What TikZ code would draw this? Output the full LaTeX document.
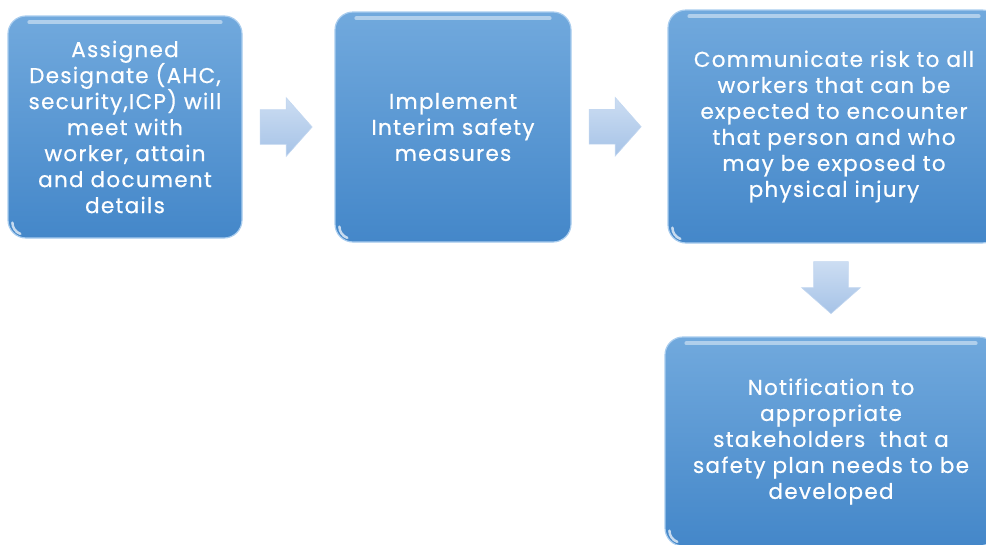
\documentclass[tikz,border=0pt]{standalone}
\usepackage{fontspec}
\setmainfont{Poppins}
\newfontfamily\stepfont[LetterSpace=6,FakeBold=0.6]{Poppins}
\usetikzlibrary{shapes.arrows,calc}

\definecolor{boxtop}{HTML}{71A9DD}
\definecolor{boxbot}{HTML}{4487C9}
\definecolor{boxedge}{HTML}{A8CCEE}
\definecolor{arrowtop}{HTML}{CCDDF2}
\definecolor{arrowbot}{HTML}{A6C3E7}
\definecolor{arrowedge}{HTML}{C3D7F0}

\tikzset{
  stepbox/.style={rounded corners=18pt, top color=boxtop, bottom color=boxbot,
    draw=boxedge, line width=1.2pt, text=white, align=center,
    font=\stepfont\fontsize{21.5}{26}\selectfont, inner sep=0pt},
  gloss/.style={white, opacity=0.45, line width=4pt, line cap=round},
  flowarrow/.style={single arrow, single arrow head extend=12pt,
    single arrow tip angle=97, minimum height=52pt, inner sep=17pt,
    top color=arrowtop, bottom color=arrowbot, draw=arrowedge, line width=0.6pt},
}

\newcommand{\glossbox}[1]{%
  \draw[gloss] ([xshift=22pt,yshift=-7pt]#1.north west) -- ([xshift=-22pt,yshift=-7pt]#1.north east);
  \draw[white, opacity=0.7, line width=2.5pt, line cap=round]
    ([xshift=5pt,yshift=16pt]#1.south west) arc[start angle=180, end angle=250, radius=12pt];
}

\begin{document}
\begin{tikzpicture}[x=1pt,y=-1pt]
  \useasboundingbox (0,0) rectangle (986,544);

  \node[stepbox, minimum width=234pt, minimum height=222pt] (b1) at (125,127)
    {Assigned\\Designate (AHC,\\security,ICP) will\\meet with\\worker, attain\\and document\\details};
  \node[stepbox, minimum width=236pt, minimum height=230pt] (b2) at (453,127)
    {Implement\\Interim safety\\measures};
  \node[stepbox, minimum width=332pt, minimum height=233pt] (b3) at (834,126.5)
    {Communicate risk to all\\workers that can be\\expected to encounter\\that person and who\\may be exposed to\\physical injury};
  \node[stepbox, minimum width=332pt, minimum height=209pt] (b4) at (831,441.5)
    {Notification to\\appropriate\\stakeholders\ \ that a\\safety plan needs to be\\developed};

  \glossbox{b1}
  \glossbox{b2}
  \glossbox{b3}
  \glossbox{b4}

  \node[flowarrow] (a1) at ($(b1.east)!0.5!(b2.west)+(-10,0)$) {};
  \node[flowarrow] (a2) at ($(b2.east)!0.5!(b3.west)+(-12,0)$) {};
  \node[flowarrow, shape border rotate=270] (a3) at ($(b3.south -| b4.north)!0.5!(b4.north)+(0,-10)$) {};
\end{tikzpicture}
\end{document}
